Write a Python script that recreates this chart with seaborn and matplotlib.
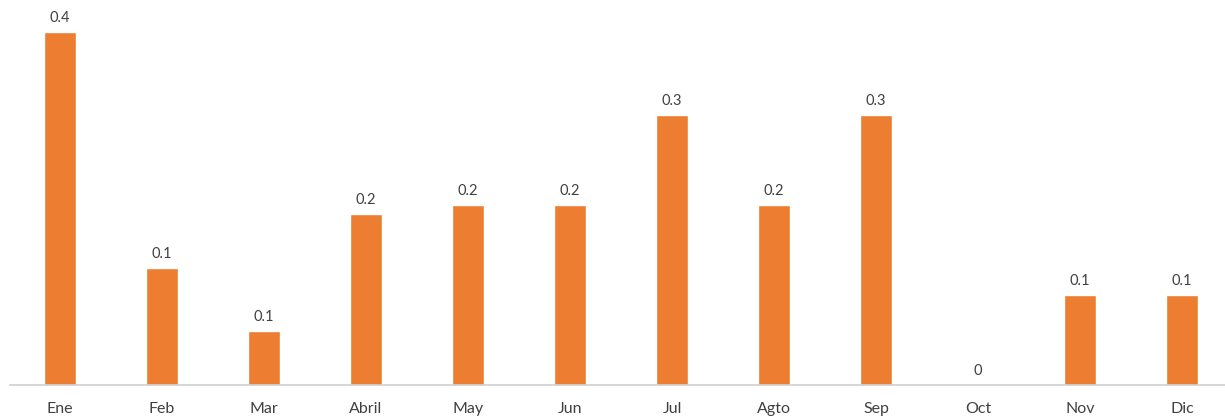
import matplotlib
matplotlib.use("Agg")
import matplotlib.pyplot as plt
import seaborn as sns
import pandas as pd

MONTHS = ["Ene", "Feb", "Mar", "Abril", "May", "Jun",
          "Jul", "Agto", "Sep", "Oct", "Nov", "Dic"]
VALUES = [0.392, 0.13, 0.06, 0.19, 0.20, 0.20,
          0.30, 0.20, 0.30, 0.0, 0.10, 0.10]

BAR_COLOR  = "#ED7D31"
TEXT_COLOR = "#404040"

sns.set_theme(style="white")
plt.rcParams["font.family"] = ["Lato", "DejaVu Sans"]

df = pd.DataFrame({"mes": MONTHS, "valor": VALUES})

fig = plt.figure(figsize=(12.25, 4.17), dpi=100)
ax = fig.add_axes([10 / 1225, 32 / 417, 1215 / 1225, 385 / 417])

sns.barplot(data=df, x="mes", y="valor", color=BAR_COLOR,
            width=0.31, saturation=1, ax=ax)

labels = ["0" if v == 0 else f"{v:.1f}" for v in VALUES]
ax.bar_label(ax.containers[0], labels=labels, padding=5,
             fontsize=10.5, color=TEXT_COLOR)

ax.set_xlim(-0.49, 11.42)
ax.set_ylim(0, 0.428)
ax.set_xlabel("")
ax.set_ylabel("")
ax.set_yticks([])
ax.tick_params(axis="x", length=0, pad=12, labelsize=11.5, labelcolor=TEXT_COLOR)
for side in ["top", "right", "left"]:
    ax.spines[side].set_visible(False)
ax.spines["bottom"].set_color("#D0D0D0")
ax.spines["bottom"].set_linewidth(1.2)

fig.savefig("out.png", dpi=100)
